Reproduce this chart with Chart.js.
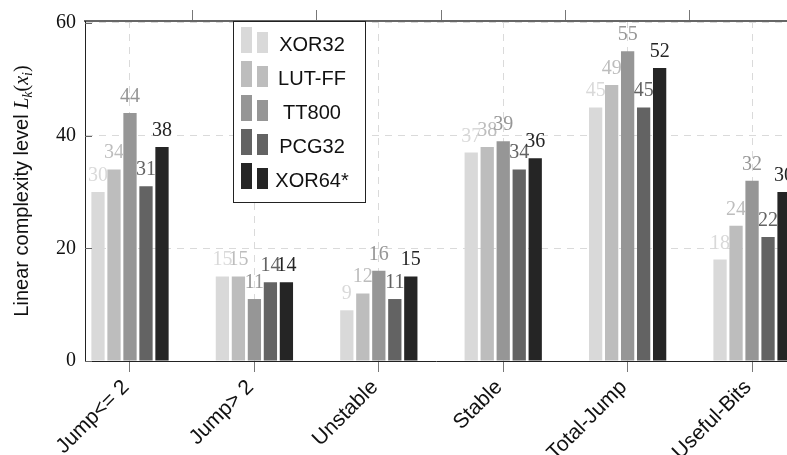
<!DOCTYPE html>
<html>
<head>
<meta charset="utf-8">
<script src="https://cdn.jsdelivr.net/npm/chart.js@4.4.0/dist/chart.umd.min.js"></script>
<style>
html, body { margin: 0; padding: 0; background: #fff; overflow: hidden; }
#wrap { position: relative; width: 787px; height: 455px; }
</style>
</head>
<body>
<div id="wrap"><canvas id="chart" width="787" height="455"></canvas></div>
<script>
// values
const categories = ['Jump<= 2', 'Jump> 2', 'Unstable', 'Stable', 'Total-Jump', 'Useful-Bits'];
const seriesNames = ['XOR32', 'LUT-FF', 'TT800', 'PCG32', 'XOR64*'];
const xor32 = [30, 15, 9, 37, 45, 18];
const lutFF = [34, 15, 12, 38, 49, 24];
const tt800 = [44, 11, 16, 39, 55, 32];
const pcg32 = [31, 14, 11, 34, 45, 22];
const xor64 = [38, 14, 15, 36, 52, 30];
const yTicks = [0, 20, 40, 60];

const colors = ['#d9d9d9', '#bdbdbd', '#969696', '#636363', '#252525'];
const seriesValues = [xor32, lutFF, tt800, pcg32, xor64];

const serif = '"Liberation Serif", "Times New Roman", serif';
const sans = '"Liberation Sans", Arial, sans-serif';

const datasets = seriesValues.map((vals, i) => ({
    label: seriesNames[i],
    data: vals.map((v, j) => ({ x: j, y: v })),
    backgroundColor: colors[i],
    borderWidth: 0,
    categoryPercentage: 0.643,
    barPercentage: 0.83
}));

const categoryTicks = axis => { axis.ticks = categories.map((c, i) => ({ value: i })); };

// numbers above the bars, same grey as the bar
const valueLabels = {
    id: 'valueLabels',
    afterDatasetsDraw(chart) {
        const ctx = chart.ctx;
        ctx.save();
        ctx.font = '20px ' + serif;
        ctx.textAlign = 'center';
        ctx.textBaseline = 'alphabetic';
        chart.data.datasets.forEach((ds, i) => {
            const meta = chart.getDatasetMeta(i);
            ctx.fillStyle = ds.backgroundColor;
            meta.data.forEach((bar, j) => {
                ctx.fillText(String(ds.data[j].y), bar.x, bar.y - 11);
            });
        });
        ctx.restore();
    }
};

// rotated category names, inward y ticks, y title and the boxed legend
const extras = {
    id: 'extras',
    afterDraw(chart) {
        const ctx = chart.ctx;
        const area = chart.chartArea;
        const xs = chart.scales.x;
        const y = chart.scales.y;

        ctx.save();
        ctx.font = '21px ' + sans;
        ctx.fillStyle = '#111';
        ctx.textAlign = 'right';
        ctx.textBaseline = 'middle';
        xs.ticks.forEach(t => {
            ctx.save();
            ctx.translate(xs.getPixelForValue(t.value) - 4, area.bottom + 23);
            ctx.rotate(-Math.PI / 4);
            ctx.fillText(categories[t.value], 0, 0);
            ctx.restore();
        });
        ctx.restore();

        ctx.save();
        ctx.strokeStyle = '#666';
        ctx.lineWidth = 1;
        y.ticks.forEach(t => {
            const py = Math.round(y.getPixelForValue(t.value)) + 0.5;
            ctx.beginPath();
            ctx.moveTo(area.left, py);
            ctx.lineTo(area.left + 7, py);
            ctx.stroke();
        });
        ctx.restore();

        // y title: text part in sans, math part in italic serif
        const parts = [
            { t: 'Linear complexity level ', f: '20px ' + sans, dy: 0 },
            { t: 'L', f: 'italic 20px ' + serif, dy: 0 },
            { t: 'k', f: 'italic 14px ' + serif, dy: 4 },
            { t: '(', f: '20px ' + serif, dy: 0 },
            { t: 'x', f: 'italic 20px ' + serif, dy: 0 },
            { t: 'i', f: 'italic 14px ' + serif, dy: 4 },
            { t: ')', f: '20px ' + serif, dy: 0 }
        ];
        ctx.save();
        let total = 0;
        parts.forEach(p => { ctx.font = p.f; p.w = ctx.measureText(p.t).width; total += p.w; });
        ctx.translate(28, (area.top + area.bottom) / 2);
        ctx.rotate(-Math.PI / 2);
        ctx.fillStyle = '#111';
        ctx.textBaseline = 'alphabetic';
        let x = -total / 2;
        parts.forEach(p => {
            ctx.font = p.f;
            ctx.fillText(p.t, x, p.dy);
            x += p.w;
        });
        ctx.restore();

        // legend
        const box = { x: 233, y: area.top, w: 132, h: 181 };
        ctx.save();
        ctx.fillStyle = '#fff';
        ctx.fillRect(box.x, box.y, box.w, box.h);
        ctx.strokeStyle = '#222';
        ctx.lineWidth = 1;
        ctx.strokeRect(box.x + 0.5, box.y + 0.5, box.w, box.h);
        ctx.font = '20px ' + sans;
        ctx.textAlign = 'center';
        ctx.textBaseline = 'alphabetic';
        chart.data.datasets.forEach((ds, i) => {
            const cy = box.y + 23 + i * 34;
            ctx.fillStyle = ds.backgroundColor;
            ctx.fillRect(box.x + 8, cy - 17, 11, 26);
            ctx.fillRect(box.x + 24, cy - 12, 11, 21);
            ctx.fillStyle = '#111';
            ctx.fillText(ds.label, box.x + 79, cy + 7);
        });
        ctx.restore();
    }
};

new Chart(document.getElementById('chart'), {
    type: 'bar',
    data: { datasets: datasets },
    options: {
        responsive: false,
        animation: false,
        devicePixelRatio: 1,
        layout: { padding: 0 },
        plugins: {
            legend: { display: false },
            tooltip: { enabled: false }
        },
        scales: {
            x: {
                type: 'linear',
                position: 'bottom',
                offset: false,
                min: -0.3617,
                max: 5.281,
                afterBuildTicks: categoryTicks,
                afterFit: axis => { axis.height = 94; },
                grid: {
                    color: '#dadada',
                    tickColor: '#777',
                    tickLength: 11,
                    offset: false
                },
                border: { color: '#222', width: 1, dash: [7, 6] },
                ticks: { display: false }
            },
            x2: {
                type: 'linear',
                position: 'top',
                offset: false,
                min: -0.3617,
                max: 5.281,
                afterBuildTicks: categoryTicks,
                afterFit: axis => { axis.height = 19; },
                grid: {
                    drawOnChartArea: false,
                    tickColor: '#777',
                    tickLength: 11
                },
                border: { color: '#666', width: 2 },
                ticks: { display: false }
            },
            y: {
                min: 0,
                max: 60.35,
                afterBuildTicks: axis => { axis.ticks = yTicks.map(v => ({ value: v })); },
                afterFit: axis => { axis.width = 85; },
                grid: {
                    color: '#dadada',
                    drawTicks: false
                },
                border: { color: '#222', width: 1, dash: [7, 6] },
                ticks: {
                    padding: 9,
                    color: '#111',
                    font: { family: serif, size: 20 }
                }
            }
        }
    },
    plugins: [valueLabels, extras]
});
</script>
</body>
</html>
